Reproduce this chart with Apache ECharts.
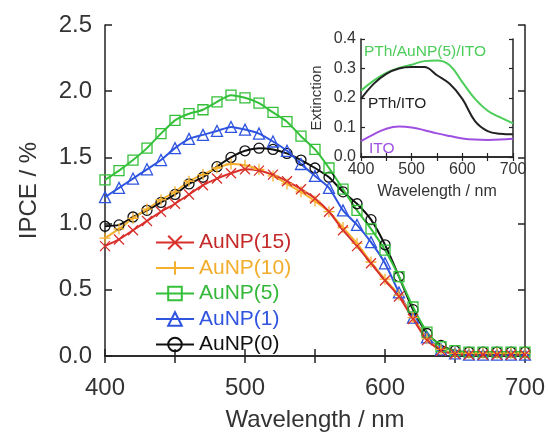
<!DOCTYPE html>
<html>
<head>
<meta charset="utf-8">
<script src="https://cdn.jsdelivr.net/npm/echarts@6/dist/echarts.min.js"></script>
<style>
  html, body { margin: 0; padding: 0; background: #fff; }
  #chart { width: 548px; height: 437px; }
</style>
</head>
<body>
<div id="chart"></div>
<script>
// main plot: IPCE vs wavelength, one point every 10 nm
var wavelength = [400, 410, 420, 430, 440, 450, 460, 470, 480, 490, 500, 510, 520, 530, 540, 550,
  560, 570, 580, 590, 600, 610, 620, 630, 640, 650, 660, 670, 680, 690, 700];
var auNP15 = [0.83, 0.88, 0.95, 1.02, 1.09, 1.15, 1.22, 1.29, 1.34, 1.38, 1.41, 1.40, 1.37, 1.32, 1.26, 1.19,
  1.09, 0.95, 0.83, 0.70, 0.57, 0.45, 0.28, 0.12, 0.04, 0.015, 0.01, 0.01, 0.01, 0.01, 0.01];
var auNP10 = [0.89, 0.96, 1.04, 1.11, 1.18, 1.24, 1.32, 1.37, 1.42, 1.45, 1.44, 1.41, 1.36, 1.30, 1.24, 1.17,
  1.09, 0.97, 0.85, 0.71, 0.58, 0.46, 0.29, 0.13, 0.05, 0.02, 0.02, 0.02, 0.02, 0.02, 0.02];
var auNP5 = [1.33, 1.40, 1.48, 1.57, 1.68, 1.78, 1.83, 1.86, 1.92, 1.97, 1.95, 1.91, 1.84, 1.77, 1.66, 1.56,
  1.42, 1.26, 1.10, 0.96, 0.80, 0.60, 0.37, 0.18, 0.07, 0.04, 0.03, 0.03, 0.03, 0.03, 0.03];
var auNP1 = [1.20, 1.27, 1.34, 1.41, 1.48, 1.57, 1.64, 1.67, 1.70, 1.73, 1.71, 1.68, 1.62, 1.55, 1.45, 1.36,
  1.27, 1.10, 0.99, 0.86, 0.70, 0.48, 0.29, 0.14, 0.05, 0.02, 0.01, 0.01, 0.01, 0.01, 0.01];
var auNP0 = [0.98, 0.99, 1.05, 1.10, 1.16, 1.22, 1.30, 1.35, 1.43, 1.50, 1.55, 1.57, 1.56, 1.53, 1.48, 1.42,
  1.35, 1.24, 1.15, 1.03, 0.84, 0.60, 0.35, 0.17, 0.08, 0.04, 0.03, 0.03, 0.03, 0.03, 0.03];

// inset: extinction spectra
var insetWavelength = [400, 425, 450, 475, 500, 525, 550, 575, 600, 625, 650, 675, 700];
var pthAuITO = [0.225, 0.259, 0.285, 0.302, 0.313, 0.325, 0.327, 0.311, 0.254, 0.197, 0.157, 0.134, 0.114];
var pthITO = [0.197, 0.248, 0.282, 0.300, 0.305, 0.305, 0.277, 0.248, 0.197, 0.122, 0.088, 0.079, 0.077];
var ito = [0.054, 0.077, 0.096, 0.103, 0.100, 0.091, 0.080, 0.071, 0.063, 0.059, 0.058, 0.059, 0.062];

var font = '"Liberation Sans", Arial, sans-serif';
var crossPath = 'path://M0,0L10,10M10,0L0,10';
var plusPath = 'path://M5,0L5,10M0,5L10,5';

function pairs(xs, ys) {
  return xs.map(function (x, i) { return [x, ys[i]]; });
}

function mainSeries(name, data, color, symbol, size) {
  return {
    name: name,
    type: 'line',
    xAxisIndex: 0,
    yAxisIndex: 0,
    data: pairs(wavelength, data),
    smooth: 0.2,
    symbol: symbol,
    symbolSize: size,
    lineStyle: { color: color, width: 2 },
    itemStyle: { color: 'rgba(255,255,255,0)', borderColor: color, borderWidth: 1.3 }
  };
}

function insetSeries(name, data, color) {
  return {
    name: name,
    type: 'line',
    xAxisIndex: 2,
    yAxisIndex: 2,
    data: pairs(insetWavelength, data),
    smooth: 0.4,
    symbol: 'none',
    lineStyle: { color: color, width: 2 }
  };
}

var frame = { show: true, lineStyle: { color: '#222', width: 1.5 } };
var noLabel = { show: false };

var chart = echarts.init(document.getElementById('chart'));
var option = {
  animation: false,
  backgroundColor: '#fff',
  textStyle: { fontFamily: font },
  grid: [
    { left: 105, right: 22, top: 25, bottom: 80 },
    { left: 361, right: 35, top: 39, bottom: 280, show: true, backgroundColor: '#fff', borderWidth: 0 }
  ],
  legend: {
    orient: 'vertical',
    left: 150,
    top: 227,
    itemWidth: 38,
    itemHeight: 17,
    itemGap: 4.5,
    data: [
      { name: 'AuNP(15)', textStyle: { color: '#c42a2a' } },
      { name: 'AuNP(10)', textStyle: { color: '#f2ad2c' } },
      { name: 'AuNP(5)', textStyle: { color: '#35b83a' } },
      { name: 'AuNP(1)', textStyle: { color: '#2f54e0' } },
      { name: 'AuNP(0)', textStyle: { color: '#111' } }
    ],
    textStyle: { fontSize: 21, fontFamily: font, lineHeight: 21 }
  },
  xAxis: [
    {
      gridIndex: 0, type: 'value', min: 400, max: 700, interval: 50,
      name: 'Wavelength / nm', nameLocation: 'middle', nameGap: 52,
      nameTextStyle: { fontSize: 24, color: '#333', fontFamily: font },
      axisLine: frame,
      axisTick: { inside: true, length: 7, lineStyle: { color: '#222', width: 1.5 } },
      axisLabel: { fontSize: 24, color: '#333', margin: 20, fontFamily: font,
        formatter: function (v) { return v % 100 === 0 ? String(v) : ''; } },
      splitLine: { show: false }
    },
    {
      gridIndex: 0, type: 'value', position: 'top', min: 400, max: 700, interval: 50,
      axisLine: frame,
      axisTick: { inside: true, length: 7, lineStyle: { color: '#222', width: 1.5 } },
      axisLabel: noLabel, splitLine: { show: false }
    },
    {
      gridIndex: 1, type: 'value', min: 400, max: 700, interval: 50,
      name: 'Wavelength / nm', nameLocation: 'middle', nameGap: 27,
      nameTextStyle: { fontSize: 16, color: '#333', fontFamily: font },
      axisLine: frame,
      axisTick: { inside: true, length: 4, lineStyle: { color: '#222', width: 1.2 } },
      axisLabel: { fontSize: 16, color: '#333', margin: 5, fontFamily: font,
        formatter: function (v) { return v % 100 === 0 ? String(v) : ''; } },
      splitLine: { show: false }
    },
    {
      gridIndex: 1, type: 'value', position: 'top', min: 400, max: 700, interval: 50,
      axisLine: frame,
      axisTick: { inside: true, length: 4, lineStyle: { color: '#222', width: 1.2 } },
      axisLabel: noLabel, splitLine: { show: false }
    }
  ],
  yAxis: [
    {
      gridIndex: 0, type: 'value', min: 0, max: 2.5, interval: 0.5,
      name: 'IPCE / %', nameLocation: 'middle', nameGap: 64,
      nameTextStyle: { fontSize: 24, color: '#333', fontFamily: font },
      axisLine: frame,
      axisTick: { inside: true, length: 7, lineStyle: { color: '#222', width: 1.5 } },
      axisLabel: { fontSize: 24, color: '#333', margin: 13, fontFamily: font,
        formatter: function (v) { return v.toFixed(1); } },
      splitLine: { show: false }
    },
    {
      gridIndex: 0, type: 'value', position: 'right', min: 0, max: 2.5, interval: 0.5,
      axisLine: frame,
      axisTick: { inside: true, length: 7, lineStyle: { color: '#222', width: 1.5 } },
      axisLabel: noLabel, splitLine: { show: false }
    },
    {
      gridIndex: 1, type: 'value', min: 0, max: 0.4, interval: 0.1,
      name: 'Extinction', nameLocation: 'middle', nameGap: 37,
      nameTextStyle: { fontSize: 15, color: '#333', fontFamily: font },
      axisLine: frame,
      axisTick: { inside: true, length: 4, lineStyle: { color: '#222', width: 1.2 } },
      axisLabel: { fontSize: 16, color: '#333', margin: 5, fontFamily: font,
        formatter: function (v) { return v.toFixed(1); } },
      splitLine: { show: false }
    },
    {
      gridIndex: 1, type: 'value', position: 'right', min: 0, max: 0.4, interval: 0.1,
      axisLine: frame,
      axisTick: { inside: true, length: 4, lineStyle: { color: '#222', width: 1.2 } },
      axisLabel: noLabel, splitLine: { show: false }
    }
  ],
  graphic: [
    { type: 'text', left: 364, top: 44, style: { text: 'PTh/AuNP(5)/ITO', fill: '#4ccd5a', font: '15.5px ' + font } },
    { type: 'text', left: 368, top: 96, style: { text: 'PTh/ITO', fill: '#222', font: '15.5px ' + font } },
    { type: 'text', left: 369, top: 141, style: { text: 'ITO', fill: '#a050e0', font: '15.5px ' + font } }
  ],
  series: [
    mainSeries('AuNP(0)', auNP0, '#111', 'circle', 10),
    mainSeries('AuNP(1)', auNP1, '#2f54e0', 'triangle', 11),
    mainSeries('AuNP(5)', auNP5, '#35c03a', 'rect', 10),
    mainSeries('AuNP(10)', auNP10, '#f5b030', plusPath, 11),
    mainSeries('AuNP(15)', auNP15, '#d9302c', crossPath, 10),
    insetSeries('PTh/AuNP(5)/ITO', pthAuITO, '#4ccd5a'),
    insetSeries('PTh/ITO', pthITO, '#222'),
    insetSeries('ITO', ito, '#a050e0')
  ]
};
chart.setOption(option);
</script>
</body>
</html>
